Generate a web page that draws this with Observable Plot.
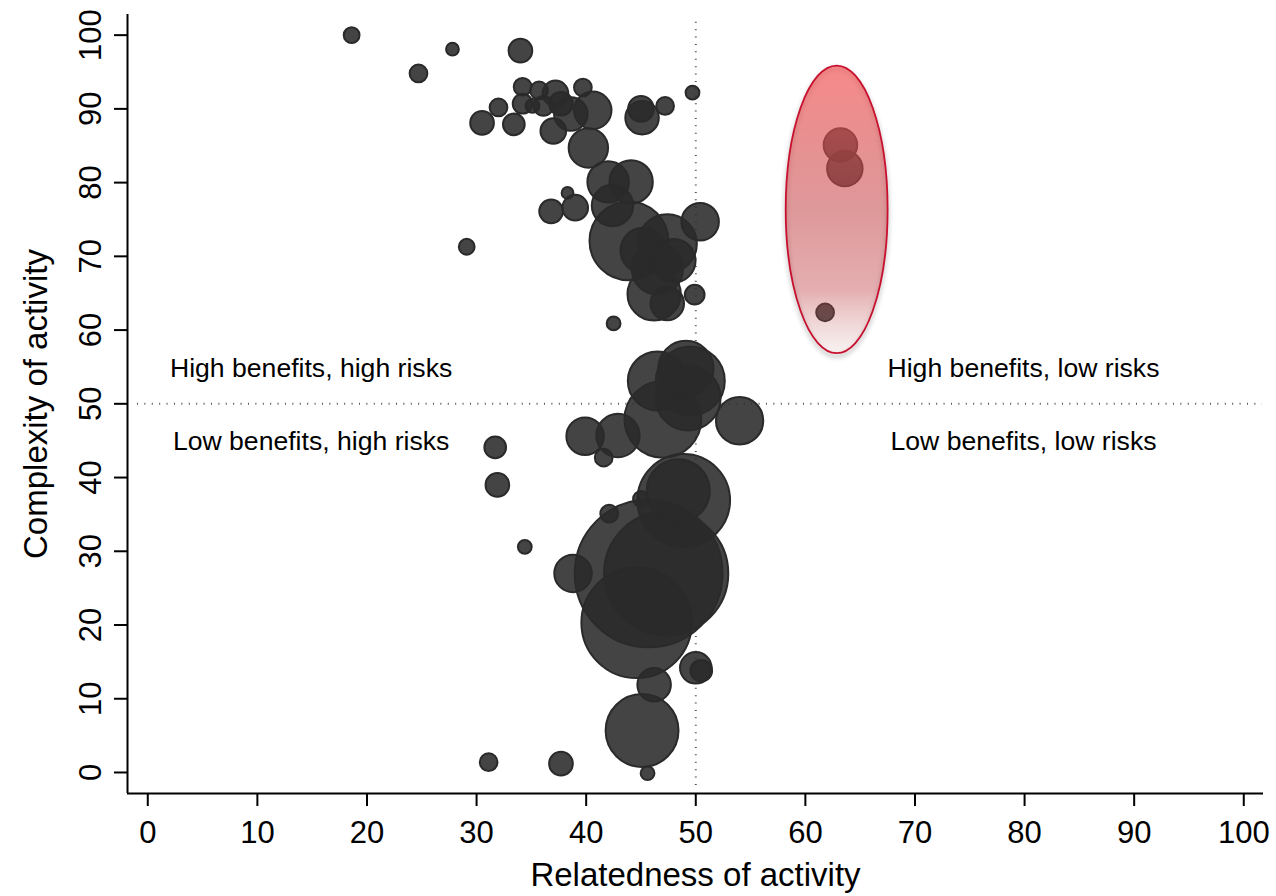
<!DOCTYPE html>
<html>
<head>
<meta charset="utf-8">
<script src="https://cdn.jsdelivr.net/npm/d3@7"></script>
<script src="https://cdn.jsdelivr.net/npm/@observablehq/plot@0.6"></script>
<style>
  html, body { margin: 0; padding: 0; background: #fff; }
  #chart svg { display: block; }
</style>
</head>
<body>
<div id="chart"></div>
<script>
// ---- data ----
const relatedness = [
  18.6, 27.8, 24.7, 34.0, 34.2, 35.7, 37.2, 39.7, 32.0, 34.2, 35.1, 36.1, 37.7, 38.6, 30.5, 33.4, 37.0, 40.6, 40.2, 45.0, 45.1, 47.2, 49.7,
  42.0, 44.1, 42.4, 38.3, 39.0, 36.8, 29.1, 43.9, 47.4, 45.2, 48.0, 46.2, 47.4, 50.4, 49.9, 42.5, 46.5,
  46.5, 49.5, 49.3, 47.0, 54.0, 39.9, 42.9, 41.6, 49.1,
  31.7, 31.9, 34.4, 42.1, 45.0, 48.9, 48.4, 47.3, 45.7, 44.6, 38.8, 50.0, 50.5, 45.1, 46.2, 45.6, 37.7, 31.1,
  63.2, 63.6, 61.8
];
const complexity = [
  100.0, 98.1, 94.8, 97.9, 93.0, 92.5, 92.1, 92.9, 90.2, 90.7, 90.4, 90.4, 90.7, 89.3, 88.1, 87.9, 87.0, 89.8, 84.7, 90.0, 88.8, 90.4, 92.2,
  80.1, 80.1, 76.9, 78.6, 76.6, 76.1, 71.3, 72.1, 71.7, 70.8, 69.4, 64.9, 63.6, 74.7, 64.8, 60.9, 68.3,
  53.1, 53.1, 50.8, 47.9, 47.7, 45.6, 45.7, 42.7, 54.8,
  44.1, 39.0, 30.6, 35.1, 37.1, 36.9, 38.2, 27.0, 27.0, 20.3, 27.0, 14.2, 13.8, 5.7, 11.9, -0.1, 1.2, 1.4,
  85.1, 81.9, 62.4
];
const activitySize = [
  1.31, 0.86, 1.65, 2.94, 1.65, 1.65, 3.45, 1.65, 1.65, 2.04, 1.0, 2.04, 2.94, 5.9, 2.94, 2.47, 3.45, 7.37, 8.16, 3.45, 5.9, 1.65, 1.0,
  9.0, 9.88, 9.0, 0.73, 3.45, 2.94, 1.31, 32.65, 18.37, 10.8, 9.88, 14.9, 5.9, 7.37, 2.04, 1.0, 13.8,
  18.37, 25.0, 22.2, 31.0, 11.76, 7.37, 9.88, 1.65, 16.0,
  2.47, 2.94, 1.0, 1.65, 1.31, 45.1, 20.9, 81.0, 114.8, 64.0, 7.37, 5.22, 2.47, 27.9, 5.9, 1.0, 2.94, 1.65,
  5.9, 6.61, 1.65
];

const xTicks = [0, 10, 20, 30, 40, 50, 60, 70, 80, 90, 100];
const yTicks = [0, 10, 20, 30, 40, 50, 60, 70, 80, 90, 100];
const xLabel = "Relatedness of activity";
const yLabel = "Complexity of activity";

const thresholdX = [50];
const thresholdY = [50];
const verticalExtent = [-1.76, 102.1];
const horizontalExtent = [-0.94, 101.7];

const quadrantText = ["High benefits, high risks", "Low benefits, high risks", "High benefits, low risks", "Low benefits, low risks"];
const quadrantX = [14.9, 14.9, 79.9, 79.9];
const quadrantY = [54.8, 44.9, 54.8, 44.9];

// highlighted group: centre and half-axes in data units
const highlightCenter = [62.9, 76.3];
const highlightRadii = [4.65, 19.5];

const xDomain = [-1.85, 101.8];
const yDomain = [-2.85, 102.8];

// ---- tables for Plot ----
const activities = relatedness.map((x, i) => ({x, y: complexity[i], size: activitySize[i]}));
const quadrants = quadrantText.map((t, i) => ({text: t, x: quadrantX[i], y: quadrantY[i]}));

const FONT = "'Liberation Sans', Arial, Helvetica, sans-serif";

function highlightEllipse(index, scales) {
  const {x, y} = scales;
  const cx = x(highlightCenter[0]);
  const cy = y(highlightCenter[1]);
  const rx = Math.abs(x(highlightCenter[0] + highlightRadii[0]) - cx);
  const ry = Math.abs(y(highlightCenter[1] + highlightRadii[1]) - cy);
  const g = d3.create("svg:g");
  const defs = g.append("defs");
  const grad = defs.append("linearGradient")
    .attr("id", "hlGrad").attr("x1", 0).attr("y1", 0).attr("x2", 0).attr("y2", 1);
  [
    [0, "rgb(244,92,92)", 0.72],
    [0.5, "rgb(195,68,71)", 0.55],
    [0.78, "rgb(192,62,68)", 0.42],
    [1, "rgb(200,120,120)", 0.1]
  ].forEach(([o, c, a]) => grad.append("stop").attr("offset", o).attr("stop-color", c).attr("stop-opacity", a));
  const blur = defs.append("filter").attr("id", "hlBlur").attr("x", "-20%").attr("y", "-20%").attr("width", "140%").attr("height", "140%");
  blur.append("feGaussianBlur").attr("stdDeviation", 2);
  g.append("ellipse")
    .attr("cx", cx).attr("cy", cy + 3).attr("rx", rx).attr("ry", ry)
    .attr("fill", "none").attr("stroke", "rgba(0,0,0,0.18)").attr("stroke-width", 4)
    .attr("filter", "url(#hlBlur)");
  g.append("ellipse")
    .attr("cx", cx).attr("cy", cy).attr("rx", rx).attr("ry", ry)
    .attr("fill", "url(#hlGrad)")
    .attr("stroke", "#c8102e").attr("stroke-width", 1.8);
  return g.node();
}

const chart = Plot.plot({
  width: 1276,
  height: 896,
  marginLeft: 127,
  marginRight: 13,
  marginTop: 14,
  marginBottom: 103,
  style: {fontFamily: FONT, color: "black", background: "white"},
  x: {domain: xDomain},
  y: {domain: yDomain},
  r: {type: "sqrt", domain: [0, 100], range: [0, 69]},
  marks: [
    Plot.ruleX(thresholdX, {y1: verticalExtent[0], y2: verticalExtent[1], stroke: "#555", strokeWidth: 2, strokeDasharray: "1,6.4"}),
    Plot.ruleY(thresholdY, {x1: horizontalExtent[0], x2: horizontalExtent[1], stroke: "#555", strokeWidth: 2, strokeDasharray: "1,6.4"}),
    Plot.dot(activities, {x: "x", y: "y", r: "size", fill: "#2a2a2a", fillOpacity: 0.88, stroke: "#2a2a2a", strokeWidth: 2}),
    highlightEllipse,
    Plot.text(quadrants, {x: "x", y: "y", text: "text", fontSize: 26.6, fill: "black"}),
    Plot.ruleX([xDomain[0]], {stroke: "black", strokeWidth: 2}),
    Plot.ruleY([yDomain[0]], {stroke: "black", strokeWidth: 2}),
    Plot.axisX({ticks: xTicks, tickSize: 13, tickPadding: 14, fontSize: 31, label: null, strokeWidth: 2, tickFormat: d => String(d)}),
    Plot.axisY({ticks: yTicks, tickSize: 13, tickPadding: 14, tickRotate: -90, fontSize: 31, label: null, strokeWidth: 2, tickFormat: d => String(d)}),
    Plot.text([xLabel], {frameAnchor: "bottom", dy: 92, lineAnchor: "bottom", fontSize: 33, fill: "black"}),
    Plot.text([yLabel], {frameAnchor: "left", dx: -81, rotate: -90, lineAnchor: "bottom", textAnchor: "middle", fontSize: 33, fill: "black"})
  ]
});
document.getElementById("chart").appendChild(chart);
</script>
</body>
</html>
